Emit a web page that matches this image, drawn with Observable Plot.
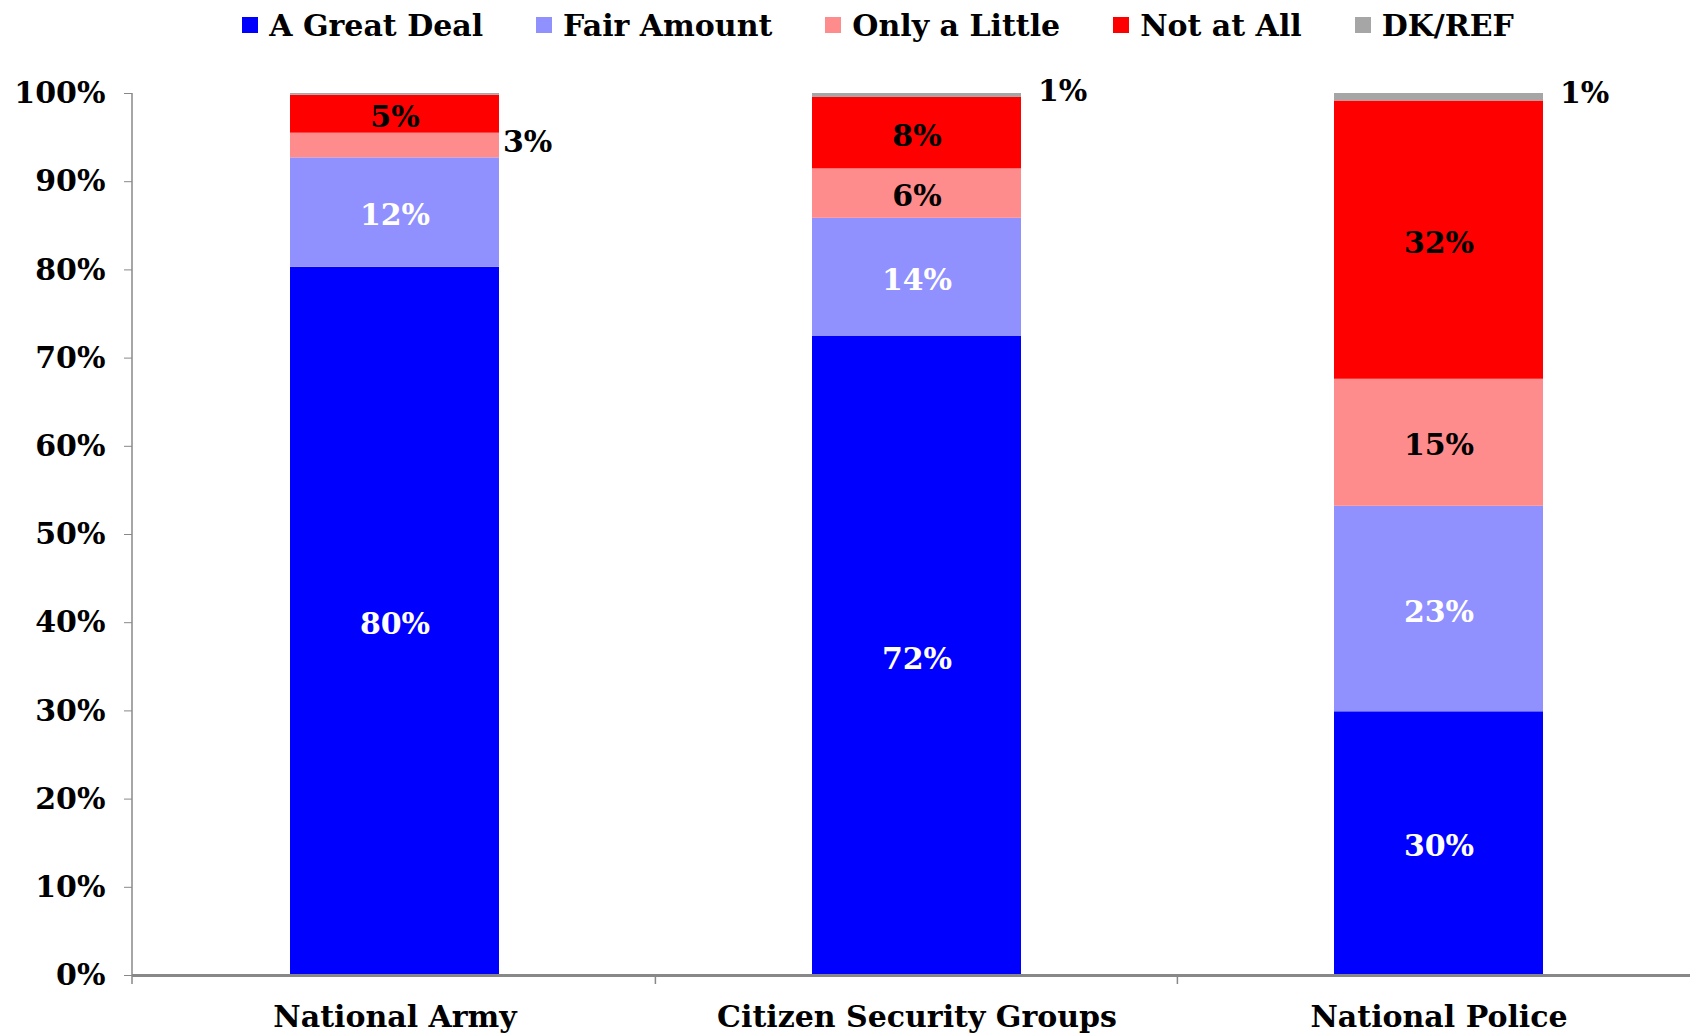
<!DOCTYPE html>
<html>
<head>
<meta charset="utf-8">
<script src="https://cdn.jsdelivr.net/npm/d3@7"></script>
<script src="https://cdn.jsdelivr.net/npm/@observablehq/plot@0.6"></script>
<style>
  html, body { margin: 0; padding: 0; background: #fff; }
  body { width: 1690px; height: 1034px; overflow: hidden; font-family: "DejaVu Serif", serif; font-weight: bold; }
  #legend { height: 50px; display: flex; justify-content: center; align-items: center; gap: 53px; padding-left: 66px; box-sizing: border-box; font-size: 30px; color: #000; }
  .item { display: flex; align-items: center; gap: 11px; }
  .sw { width: 16px; height: 16px; display: inline-block; }
</style>
</head>
<body>
<div id="legend"></div>
<div id="chart"></div>
<script>
const categories = ["National Army", "Citizen Security Groups", "National Police"];
const responses = ["A Great Deal", "Fair Amount", "Only a Little", "Not at All", "DK/REF"];
const colors = ["#0000FF", "#9090FF", "#FF8C8C", "#FF0000", "#A6A6A6"];
const labelColors = ["#FFFFFF", "#FFFFFF", "#000000", "#000000", "#000000"];

const greatDeal  = [80.3, 72.45, 29.9];
const fairAmount = [12.4, 13.4, 23.3];
const onlyLittle = [2.8, 5.6, 14.4];
const notAtAll   = [4.3, 8.1, 31.55];
const dkRef      = [0.2, 0.45, 0.85];

const greatDealLabels  = ["80%", "72%", "30%"];
const fairAmountLabels = ["12%", "14%", "23%"];
const onlyLittleLabels = ["3%", "6%", "15%"];
const notAtAllLabels   = ["5%", "8%", "32%"];
const dkRefLabels      = ["", "1%", "1%"];

const yTicks = [0, 10, 20, 30, 40, 50, 60, 70, 80, 90, 100];

const seriesValues = [greatDeal, fairAmount, onlyLittle, notAtAll, dkRef];
const seriesLabels = [greatDealLabels, fairAmountLabels, onlyLittleLabels, notAtAllLabels, dkRefLabels];

const rows = [];
categories.forEach((c, ci) => {
  responses.forEach((r, ri) => {
    rows.push({category: c, response: r, value: seriesValues[ri][ci], label: seriesLabels[ri][ci], ri});
  });
});

// legend
const legend = document.getElementById("legend");
responses.forEach((r, i) => {
  const it = document.createElement("div");
  it.className = "item";
  const sw = document.createElement("span");
  sw.className = "sw";
  sw.style.background = colors[i];
  const tx = document.createElement("span");
  tx.textContent = r;
  it.appendChild(sw); it.appendChild(tx);
  legend.appendChild(it);
});

const isInside = d => d.ri < 4 && d.value >= 4;
const stackOpts = {x: "category", y: "value", z: "response", order: responses};

const chart = Plot.plot({
  width: 1690,
  height: 984,
  marginLeft: 132,
  marginRight: -10,
  marginTop: 43,
  marginBottom: 59,
  style: {fontFamily: "DejaVu Serif, serif", fontSize: "30px", fontWeight: "bold", background: "#fff", color: "#000", overflow: "visible"},
  x: {domain: categories, paddingInner: 0.6, paddingOuter: 0.3, label: null},
  y: {domain: [0, 100], label: null},
  color: {domain: responses, range: colors},
  marks: [
    Plot.barY(rows, Plot.stackY({...stackOpts, fill: "response", inset: 0})),
    Plot.text(rows, Plot.stackY({...stackOpts, text: d => isInside(d) ? d.label : "", fill: d => labelColors[d.ri], dy: 3})),
    Plot.text(rows, Plot.stackY({...stackOpts, text: d => (d.ri === 2 && !isInside(d)) ? d.label : "", fill: "#000", textAnchor: "start", dx: 108, dy: -3})),
    Plot.text(rows, Plot.stackY({...stackOpts, text: d => d.ri === 4 ? d.label : "", fill: "#000", textAnchor: "start", dx: 121, dy: -4})),
    Plot.axisY({ticks: yTicks, tickFormat: d => d + "%", tickSize: 8, tickPadding: 19, stroke: "#888", fill: "#000", label: null}),
    Plot.axisX({tickSize: 0, tickPadding: 30, fill: "#000", label: null}),
    Plot.ruleY([0], {stroke: "#888", strokeWidth: 3})
  ]
});
document.getElementById("chart").appendChild(chart);

// axis lines and category boundary ticks drawn from the scales
const sx = chart.scale("x");
const sy = chart.scale("y");
const svg = d3.select(chart);
const y0 = sy.apply(0), y100 = sy.apply(100);
svg.append("line")
  .attr("x1", sx.range[0]).attr("x2", sx.range[0])
  .attr("y1", y100).attr("y2", y0 + 9)
  .attr("stroke", "#888").attr("stroke-width", 1.5);
categories.slice(1).forEach(c => {
  const bx = sx.apply(c) - sx.step * 0.3;
  svg.append("line")
    .attr("x1", bx).attr("x2", bx)
    .attr("y1", y0).attr("y2", y0 + 9)
    .attr("stroke", "#888").attr("stroke-width", 1.5);
});
</script>
</body>
</html>
